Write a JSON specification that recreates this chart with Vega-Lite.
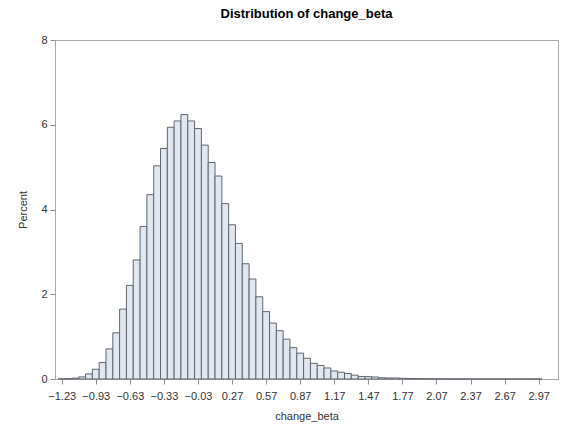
{
  "$schema": "https://vega.github.io/schema/vega-lite/v6.json",
  "autosize": "none",
  "width": 503,
  "height": 339,
  "padding": {"left": 55, "top": 40, "right": 10, "bottom": 51},
  "background": "white",
  "title": {"text": "Distribution of change_beta", "font": "Liberation Sans", "fontSize": 13, "fontWeight": "bold", "color": "#000000", "anchor": "middle", "offset": 13},
  "data": {"values": [
    {"bin_start": -1.26, "bin_end": -1.20, "percent": 0.005},
    {"bin_start": -1.20, "bin_end": -1.14, "percent": 0.01},
    {"bin_start": -1.14, "bin_end": -1.08, "percent": 0.02},
    {"bin_start": -1.08, "bin_end": -1.02, "percent": 0.05},
    {"bin_start": -1.02, "bin_end": -0.96, "percent": 0.12},
    {"bin_start": -0.96, "bin_end": -0.90, "percent": 0.23},
    {"bin_start": -0.90, "bin_end": -0.84, "percent": 0.39},
    {"bin_start": -0.84, "bin_end": -0.78, "percent": 0.71},
    {"bin_start": -0.78, "bin_end": -0.72, "percent": 1.09},
    {"bin_start": -0.72, "bin_end": -0.66, "percent": 1.65},
    {"bin_start": -0.66, "bin_end": -0.60, "percent": 2.21},
    {"bin_start": -0.60, "bin_end": -0.54, "percent": 2.81},
    {"bin_start": -0.54, "bin_end": -0.48, "percent": 3.60},
    {"bin_start": -0.48, "bin_end": -0.42, "percent": 4.35},
    {"bin_start": -0.42, "bin_end": -0.36, "percent": 5.03},
    {"bin_start": -0.36, "bin_end": -0.30, "percent": 5.44},
    {"bin_start": -0.30, "bin_end": -0.24, "percent": 5.94},
    {"bin_start": -0.24, "bin_end": -0.18, "percent": 6.09},
    {"bin_start": -0.18, "bin_end": -0.12, "percent": 6.24},
    {"bin_start": -0.12, "bin_end": -0.06, "percent": 6.09},
    {"bin_start": -0.06, "bin_end": 0.00, "percent": 5.91},
    {"bin_start": 0.00, "bin_end": 0.06, "percent": 5.52},
    {"bin_start": 0.06, "bin_end": 0.12, "percent": 5.11},
    {"bin_start": 0.12, "bin_end": 0.18, "percent": 4.79},
    {"bin_start": 0.18, "bin_end": 0.24, "percent": 4.14},
    {"bin_start": 0.24, "bin_end": 0.30, "percent": 3.64},
    {"bin_start": 0.30, "bin_end": 0.36, "percent": 3.20},
    {"bin_start": 0.36, "bin_end": 0.42, "percent": 2.72},
    {"bin_start": 0.42, "bin_end": 0.48, "percent": 2.36},
    {"bin_start": 0.48, "bin_end": 0.54, "percent": 1.94},
    {"bin_start": 0.54, "bin_end": 0.60, "percent": 1.59},
    {"bin_start": 0.60, "bin_end": 0.66, "percent": 1.32},
    {"bin_start": 0.66, "bin_end": 0.72, "percent": 1.14},
    {"bin_start": 0.72, "bin_end": 0.78, "percent": 0.94},
    {"bin_start": 0.78, "bin_end": 0.84, "percent": 0.74},
    {"bin_start": 0.84, "bin_end": 0.90, "percent": 0.61},
    {"bin_start": 0.90, "bin_end": 0.96, "percent": 0.49},
    {"bin_start": 0.96, "bin_end": 1.02, "percent": 0.37},
    {"bin_start": 1.02, "bin_end": 1.08, "percent": 0.32},
    {"bin_start": 1.08, "bin_end": 1.14, "percent": 0.26},
    {"bin_start": 1.14, "bin_end": 1.20, "percent": 0.19},
    {"bin_start": 1.20, "bin_end": 1.26, "percent": 0.16},
    {"bin_start": 1.26, "bin_end": 1.32, "percent": 0.13},
    {"bin_start": 1.32, "bin_end": 1.38, "percent": 0.09},
    {"bin_start": 1.38, "bin_end": 1.44, "percent": 0.06},
    {"bin_start": 1.44, "bin_end": 1.50, "percent": 0.055},
    {"bin_start": 1.50, "bin_end": 1.56, "percent": 0.048},
    {"bin_start": 1.56, "bin_end": 1.62, "percent": 0.03},
    {"bin_start": 1.62, "bin_end": 1.68, "percent": 0.024},
    {"bin_start": 1.68, "bin_end": 1.74, "percent": 0.024},
    {"bin_start": 1.74, "bin_end": 1.80, "percent": 0.016},
    {"bin_start": 1.80, "bin_end": 1.86, "percent": 0.012},
    {"bin_start": 1.86, "bin_end": 1.92, "percent": 0.01},
    {"bin_start": 1.92, "bin_end": 1.98, "percent": 0.008},
    {"bin_start": 1.98, "bin_end": 2.04, "percent": 0.006},
    {"bin_start": 2.04, "bin_end": 2.10, "percent": 0.005},
    {"bin_start": 2.10, "bin_end": 2.16, "percent": 0.004},
    {"bin_start": 2.16, "bin_end": 2.22, "percent": 0.003},
    {"bin_start": 2.22, "bin_end": 2.28, "percent": 0.003},
    {"bin_start": 2.28, "bin_end": 2.34, "percent": 0.002},
    {"bin_start": 2.34, "bin_end": 2.40, "percent": 0.002},
    {"bin_start": 2.40, "bin_end": 2.46, "percent": 0.001},
    {"bin_start": 2.46, "bin_end": 2.52, "percent": 0.001},
    {"bin_start": 2.52, "bin_end": 2.58, "percent": 0.001},
    {"bin_start": 2.58, "bin_end": 2.64, "percent": 0.001},
    {"bin_start": 2.64, "bin_end": 2.70, "percent": 0.0005},
    {"bin_start": 2.70, "bin_end": 2.76, "percent": 0.0005},
    {"bin_start": 2.76, "bin_end": 2.82, "percent": 0.0005},
    {"bin_start": 2.82, "bin_end": 2.88, "percent": 0.0003},
    {"bin_start": 2.88, "bin_end": 2.94, "percent": 0.0003},
    {"bin_start": 2.94, "bin_end": 3.00, "percent": 0.0003}
  ]},
  "mark": {"type": "rect", "fill": "#E1E7F0", "stroke": "#60656E", "strokeWidth": 1},
  "encoding": {
    "x": {
      "field": "bin_start", "type": "quantitative",
      "scale": {"domain": [-1.289, 3.14], "nice": false, "zero": false},
      "axis": {
        "title": "change_beta",
        "values": [-1.23, -0.93, -0.63, -0.33, -0.03, 0.27, 0.57, 0.87, 1.17, 1.47, 1.77, 2.07, 2.37, 2.67, 2.97],
        "format": ".2f",
        "grid": false,
        "labelFont": "Liberation Sans", "labelFontSize": 11, "labelColor": "#333333",
        "labelFlush": false, "labelOverlap": false, "labelPadding": 6,
        "titleFont": "Liberation Sans", "titleFontSize": 11, "titleFontWeight": "normal", "titleColor": "#333333", "titlePadding": 9,
        "tickColor": "#8c8c8c", "tickSize": 5, "domainColor": "#a6a6a6"
      }
    },
    "x2": {"field": "bin_end"},
    "y": {
      "field": "percent", "type": "quantitative",
      "scale": {"domain": [0, 8], "nice": false},
      "axis": {
        "title": "Percent",
        "values": [0, 2, 4, 6, 8],
        "grid": false,
        "labelFont": "Liberation Sans", "labelFontSize": 11, "labelColor": "#333333", "labelPadding": 3,
        "titleFont": "Liberation Sans", "titleFontSize": 11, "titleFontWeight": "normal", "titleColor": "#333333", "titlePadding": 12,
        "tickColor": "#8c8c8c", "tickSize": 5, "domainColor": "#a6a6a6"
      }
    },
    "y2": {"datum": 0}
  },
  "config": {"view": {"stroke": "#a6a6a6", "strokeWidth": 1}}
}
